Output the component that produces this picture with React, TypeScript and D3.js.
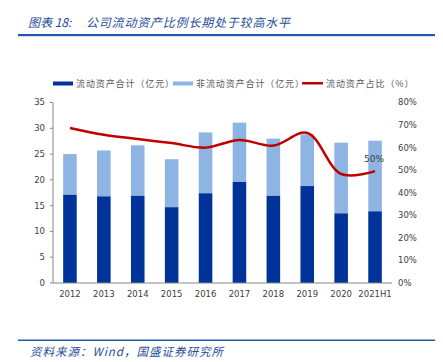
import React from "react";
import * as d3 from "d3";

const categories = ["2012", "2013", "2014", "2015", "2016", "2017", "2018", "2019", "2020", "2021H1"];
const currentAssets = [17.1, 16.8, 16.9, 14.7, 17.4, 19.6, 16.9, 18.8, 13.5, 13.9];
const nonCurrentAssets = [7.9, 8.9, 9.8, 9.3, 11.8, 11.5, 11.1, 10.0, 13.7, 13.7];
const currentRatio = [0.687, 0.657, 0.638, 0.62, 0.6, 0.634, 0.609, 0.665, 0.483, 0.496];
const leftTicks = [0, 5, 10, 15, 20, 25, 30, 35];
const rightTicks = [0, 0.1, 0.2, 0.3, 0.4, 0.5, 0.6, 0.7, 0.8];
const legendLabels = ["流动资产合计（亿元）", "非流动资产合计（亿元）", "流动资产占比（%）"];
const titlePrefix = "图表 18:";
const titleText = "公司流动资产比例长期处于较高水平";
const source = "资料来源：Wind，国盛证券研究所";

export default function App() {
  const W = 443, H = 362;
  const left = 53, right = 392, top = 102.5, bottom = 283;
  const x = d3.scaleBand().domain(categories).range([left, right]).paddingInner(0.6).paddingOuter(0.3);
  const yL = d3.scaleLinear().domain([0, 35]).range([bottom, top]);
  const yR = d3.scaleLinear().domain([0, 0.8]).range([bottom, top]);
  const cx = (c: string) => (x(c) as number) + x.bandwidth() / 2;
  const line = d3
    .line<number>()
    .x((_, i) => cx(categories[i]))
    .y((d) => yR(d))
    .curve(d3.curveCatmullRom.alpha(0.5));
  const tickFont = "DejaVu Sans, Verdana, sans-serif";
  const cjk = "Noto Sans CJK SC, sans-serif";
  const darkBlue = "#00339A";
  const lightBlue = "#8EB4E3";
  const red = "#C00000";
  const lastI = categories.length - 1;

  return (
    <svg width={W} height={H} style={{ position: "absolute", left: 0, top: 0 }}>
      <rect width={W} height={H} fill="#fff" />
      <text x={28} y={27} fontSize={12} fontStyle="italic" fill="#1F4E9A" fontFamily={cjk}>
        {titlePrefix}
      </text>
      <text x={86} y={27} fontSize={12} fontStyle="italic" fill="#1F4E9A" fontFamily={cjk} style={{ letterSpacing: "0.8px" }}>
        {titleText}
      </text>
      <rect x={18} y={34} width={417} height={2.2} fill="#1F5BAA" />

      {/* legend */}
      <g fontFamily={cjk} fontSize={9} fill="#595959" style={{ letterSpacing: "0.9px" }}>
        <rect x={53} y={81.5} width={20} height={4} fill={darkBlue} />
        <text x={76} y={86.8}>{legendLabels[0]}</text>
        <rect x={173} y={81.5} width={20} height={4} fill={lightBlue} />
        <text x={196} y={86.8}>{legendLabels[1]}</text>
        <rect x={302} y={82} width={21} height={2.5} fill={red} />
        <text x={326} y={86.8}>{legendLabels[2]}</text>
      </g>

      {/* bars */}
      {categories.map((c, i) => (
        <g key={c}>
          <rect
            x={x(c)}
            y={yL(currentAssets[i] + nonCurrentAssets[i])}
            width={x.bandwidth()}
            height={yL(currentAssets[i]) - yL(currentAssets[i] + nonCurrentAssets[i])}
            fill={lightBlue}
          />
          <rect
            x={x(c)}
            y={yL(currentAssets[i])}
            width={x.bandwidth()}
            height={bottom - yL(currentAssets[i])}
            fill={darkBlue}
          />
        </g>
      ))}

      {/* axes */}
      <line x1={left} x2={left} y1={top} y2={bottom} stroke="#888" strokeWidth={1} />
      <line x1={left} x2={right} y1={bottom} y2={bottom} stroke="#888" strokeWidth={1} />
      {leftTicks.map((t) => (
        <g key={t}>
          <line x1={left - 3} x2={left} y1={yL(t)} y2={yL(t)} stroke="#888" />
          <text x={45} y={yL(t)} dy="0.35em" textAnchor="end" fontSize={8.5} fontFamily={tickFont} fill="#404040">
            {t}
          </text>
        </g>
      ))}
      {rightTicks.map((t) => (
        <text key={t} x={398} y={yR(t)} dy="0.35em" fontSize={8.5} fontFamily={tickFont} fill="#404040">
          {d3.format(".0%")(t)}
        </text>
      ))}
      {categories.map((c) => (
        <text key={c} x={cx(c)} y={297} textAnchor="middle" fontSize={8.5} fontFamily={tickFont} fill="#404040">
          {c}
        </text>
      ))}

      {/* line */}
      <path d={line(currentRatio) || ""} fill="none" stroke={red} strokeWidth={2.5} />
      <text
        x={cx(categories[lastI]) - 1}
        y={yR(currentRatio[lastI]) - 9}
        textAnchor="middle"
        fontSize={9}
        fontFamily={tickFont}
        fill="#404040"
      >
        {d3.format(".0%")(currentRatio[lastI])}
      </text>

      <rect x={18} y={339.5} width={417} height={1.5} fill="#1F5BAA" />
      <text x={30} y={356} fontSize={11.5} fontStyle="italic" fill="#1F4E9A" fontFamily={cjk} textLength={193} lengthAdjust="spacing">
        {source}
      </text>
    </svg>
  );
}
